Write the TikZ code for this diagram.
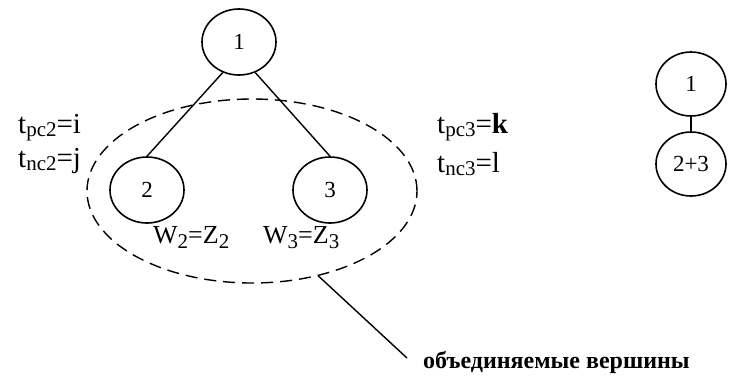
\documentclass[tikz,border=0pt]{standalone}
\usepackage{fontspec}
\setmainfont{Liberation Serif}
\usetikzlibrary{shapes.geometric, positioning, calc}
\newcommand{\lowidx}[2][3pt]{\raisebox{-#1}{\fontsize{21}{21}\selectfont #2}}
\tikzset{
  vertex/.style = {ellipse, draw, line width=1.6pt, inner sep=0pt,
                   minimum width=74pt, minimum height=66pt,
                   font=\fontsize{23}{23}\selectfont},
  svertex/.style = {ellipse, draw, line width=1.6pt, inner sep=0pt,
                   minimum width=70pt, minimum height=64pt,
                   font=\fontsize{23}{23}\selectfont},
  lbl/.style    = {inner sep=0pt, anchor=base west,
                   font=\fontsize{29}{29}\selectfont},
  wlbl/.style   = {inner sep=0pt, anchor=base west,
                   font=\fontsize{26}{26}\selectfont},
  link/.style   = {line width=1.4pt},
  dline/.style  = {dashed, dash pattern=on 12pt off 7pt, line width=1.4pt},
}
\begin{document}
\begin{tikzpicture}[x=1pt, y=-1pt]
  \useasboundingbox (0,0) rectangle (729,376);

  % tree before merging
  \node[vertex] (n1) at (239,42) {1};
  \node[vertex] (n2) at (147,190) {2};
  \node[vertex] (n3) at (330,190) {3};

  \draw[link] (n1.-118)--(n2.north);
  \draw[link] (n1.-62)--(n3.north);

  \node[ellipse, draw, dline, minimum width=330pt, minimum height=184pt]
    (grp) at (252,191) {};

  \node[lbl] (tp2) at (18,133) {t\lowidx{pc2}=i};
  \node[lbl] (tn2) at (18,167) {t\lowidx{nc2}=j};
  \node[lbl] (tp3) at (437,133) {t\lowidx{pc3}=\textbf{k}};
  \node[lbl] (tn3) at (437,172) {t\lowidx{nc3}=l};

  \node[wlbl] (w2) at (153,243) {W\lowidx[5pt]{2}=Z\lowidx[5pt]{2}};
  \node[wlbl] (w3) at (263,243) {W\lowidx[5pt]{3}=Z\lowidx[5pt]{3}};

  % callout
  \coordinate (tip) at (407,358);
  \node[inner sep=0pt, anchor=base west,
        font=\fontsize{24}{24}\selectfont\bfseries]
    (note) at (423,368) {объединяемые вершины};
  \draw[link] (grp.-52)--(tip);

  % tree after merging
  \node[svertex] (m1) at (691,84) {1};
  \node[svertex] (m23) at (691,164) {2+3};
  \draw[link] (m1)--(m23);
\end{tikzpicture}
\end{document}
